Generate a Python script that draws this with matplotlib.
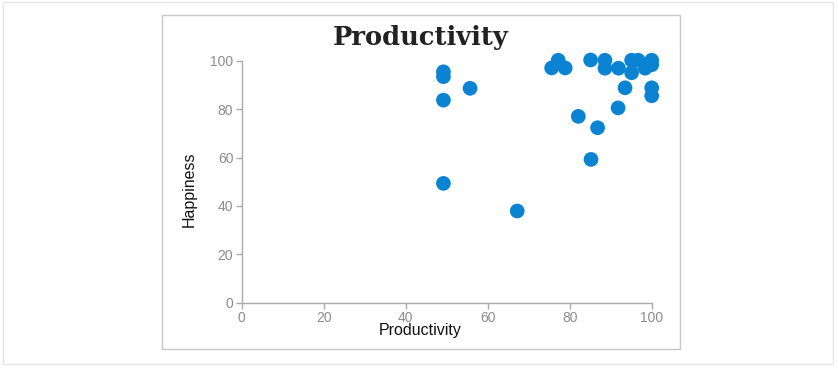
import matplotlib.pyplot as plt
from matplotlib.patches import Rectangle

# values
productivity = [49.2, 49.2, 49.2, 55.7, 49.2, 67.2,
                75.6, 77.2, 78.9, 82.1, 85.1, 85.2, 86.8,
                88.6, 88.6, 91.9, 91.8, 93.5, 95.1, 95.1,
                96.7, 98.4, 100, 100, 100, 100]
happiness = [95.4, 93.4, 83.7, 88.6, 49.3, 37.9,
             97.0, 100.2, 97.0, 77.0, 100.3, 59.2, 72.3,
             100.2, 96.9, 96.9, 80.5, 88.8, 100.2, 95.0,
             100.2, 96.9, 100.2, 98.3, 88.8, 85.5]
xticks = [0, 20, 40, 60, 80, 100]
yticks = [0, 20, 40, 60, 80, 100]

W, H = 838, 368
fig = plt.figure(figsize=(W / 100, H / 100), dpi=100)

# outer and inner frames
fig.add_artist(Rectangle((3 / W, 1 - 364 / H), 830 / W, 362 / H,
                         transform=fig.transFigure, fill=False,
                         edgecolor='#e6e6e6', linewidth=1))
fig.add_artist(Rectangle((162 / W, 1 - 349 / H), 518 / W, 334 / H,
                         transform=fig.transFigure, fill=False,
                         edgecolor='#c8c8c8', linewidth=1))

x0, x1 = 241.7, 651.7
y0, y1 = 302.7, 60.7
ax = fig.add_axes([x0 / W, 1 - y0 / H, (x1 - x0) / W, (y0 - y1) / H])

ax.scatter(productivity, happiness, s=112, color='#0a84d2',
           edgecolors='none', clip_on=False, zorder=3)

ax.set_xlim(0, 100)
ax.set_ylim(0, 100)
ax.set_xticks(xticks)
ax.set_yticks(yticks)
for side in ['top', 'right']:
    ax.spines[side].set_visible(False)
for side in ['left', 'bottom']:
    ax.spines[side].set_color('#aaaaaa')
    ax.spines[side].set_linewidth(1)
ax.tick_params(colors='#aaaaaa', labelcolor='#8c8c8c', labelsize=10,
               length=4, width=1, pad=2, labelfontfamily='Liberation Sans')

fig.text(420.5 / W, 1 - 37 / H, 'Productivity', ha='center', va='center',
         fontsize=18.5, fontweight='bold', family='DejaVu Serif', color='#222222')
fig.text(420.5 / W, 1 - 331 / H, 'Productivity', ha='center', va='center',
         fontsize=11.5, family='Liberation Sans', color='#111111')
fig.text(189 / W, 1 - 189 / H, 'Happiness', ha='center', va='center',
         rotation=90, fontsize=11.5, family='Liberation Sans', color='#111111')

fig.savefig('out.png', dpi=100)
